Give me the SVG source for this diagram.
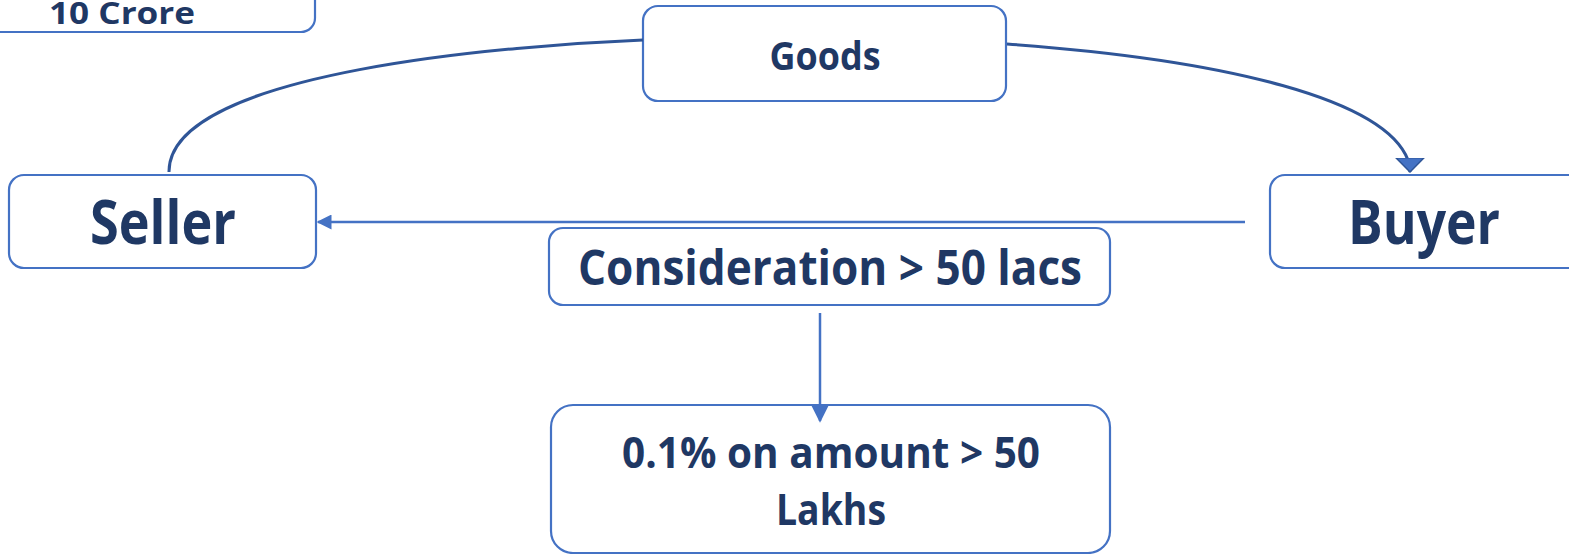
<svg xmlns="http://www.w3.org/2000/svg" width="1569" height="554" viewBox="0 0 1569 554">
<style>
.box{fill:#fff;stroke:#4472C4;stroke-width:2.2}
.t{font-family:"Open Sans","Noto Sans",sans-serif;font-weight:700;fill:#1F3864;text-anchor:middle}
.curve{fill:none;stroke:#2F5597;stroke-width:3}
.straight{fill:none;stroke:#4472C4;stroke-width:2.5}
</style>
<defs>
<marker id="triH" viewBox="0 0 10 10" refX="9" refY="5" markerWidth="15" markerHeight="15" markerUnits="userSpaceOnUse" orient="auto">
<path d="M0,0 L10,5 L0,10 Z" fill="#4472C4"/>
</marker>
<marker id="triV" viewBox="0 0 10 10" refX="9" refY="5" markerWidth="18" markerHeight="18" markerUnits="userSpaceOnUse" orient="auto">
<path d="M0,0 L10,5 L0,10 Z" fill="#4472C4"/>
</marker>
<marker id="triBig" viewBox="0 0 10 20" refX="9.5" refY="10" markerWidth="15" markerHeight="30" markerUnits="userSpaceOnUse" orient="90">
<path d="M0,0.6 L9.5,10 L0,19.4 Z" fill="#4472C4" stroke="#2F5597" stroke-width="1"/>
</marker>
</defs>
<g id="node-crore">
<rect class="box" x="-20" y="-20" width="335" height="52" rx="14"/>
<text class="t" x="122" y="24" font-size="31" textLength="146" lengthAdjust="spacingAndGlyphs">10 Crore</text>
</g>
<g id="node-goods">
<rect class="box" x="643" y="6" width="363" height="95" rx="15"/>
<text class="t" x="825" y="70" font-size="39" textLength="111" lengthAdjust="spacingAndGlyphs">Goods</text>
</g>
<g id="node-seller">
<rect class="box" x="9" y="175" width="307" height="93" rx="15"/>
<text class="t" x="163" y="244" font-size="61" textLength="146" lengthAdjust="spacingAndGlyphs">Seller</text>
</g>
<g id="node-buyer">
<rect class="box" x="1270" y="175" width="320" height="93" rx="15"/>
<text class="t" x="1424" y="244" font-size="61" textLength="152" lengthAdjust="spacingAndGlyphs">Buyer</text>
</g>
<g id="node-consideration">
<rect class="box" x="549" y="228" width="561" height="77" rx="14"/>
<text class="t" x="830" y="285" font-size="49" textLength="504" lengthAdjust="spacingAndGlyphs">Consideration &gt; 50 lacs</text>
</g>
<g id="node-tds">
<rect class="box" x="551" y="405" width="559" height="148" rx="22"/>
<text class="t" x="831" y="468" font-size="43" textLength="418" lengthAdjust="spacingAndGlyphs">0.1% on amount &gt; 50</text>
<text class="t" x="831" y="525" font-size="43" textLength="110" lengthAdjust="spacingAndGlyphs">Lakhs</text>
</g>
<g id="connectors">
<path class="curve" d="M169,172 C168,70 520,45 643,40"/>
<path class="curve" d="M1007,44 C1230,60 1385,100 1408,160 L1410,172" marker-end="url(#triBig)"/>
<path class="straight" d="M1245,222 L318,222" marker-end="url(#triH)"/>
<path class="straight" d="M820,313 L820,421" stroke-width="3.2" marker-end="url(#triV)"/>
</g>
</svg>
